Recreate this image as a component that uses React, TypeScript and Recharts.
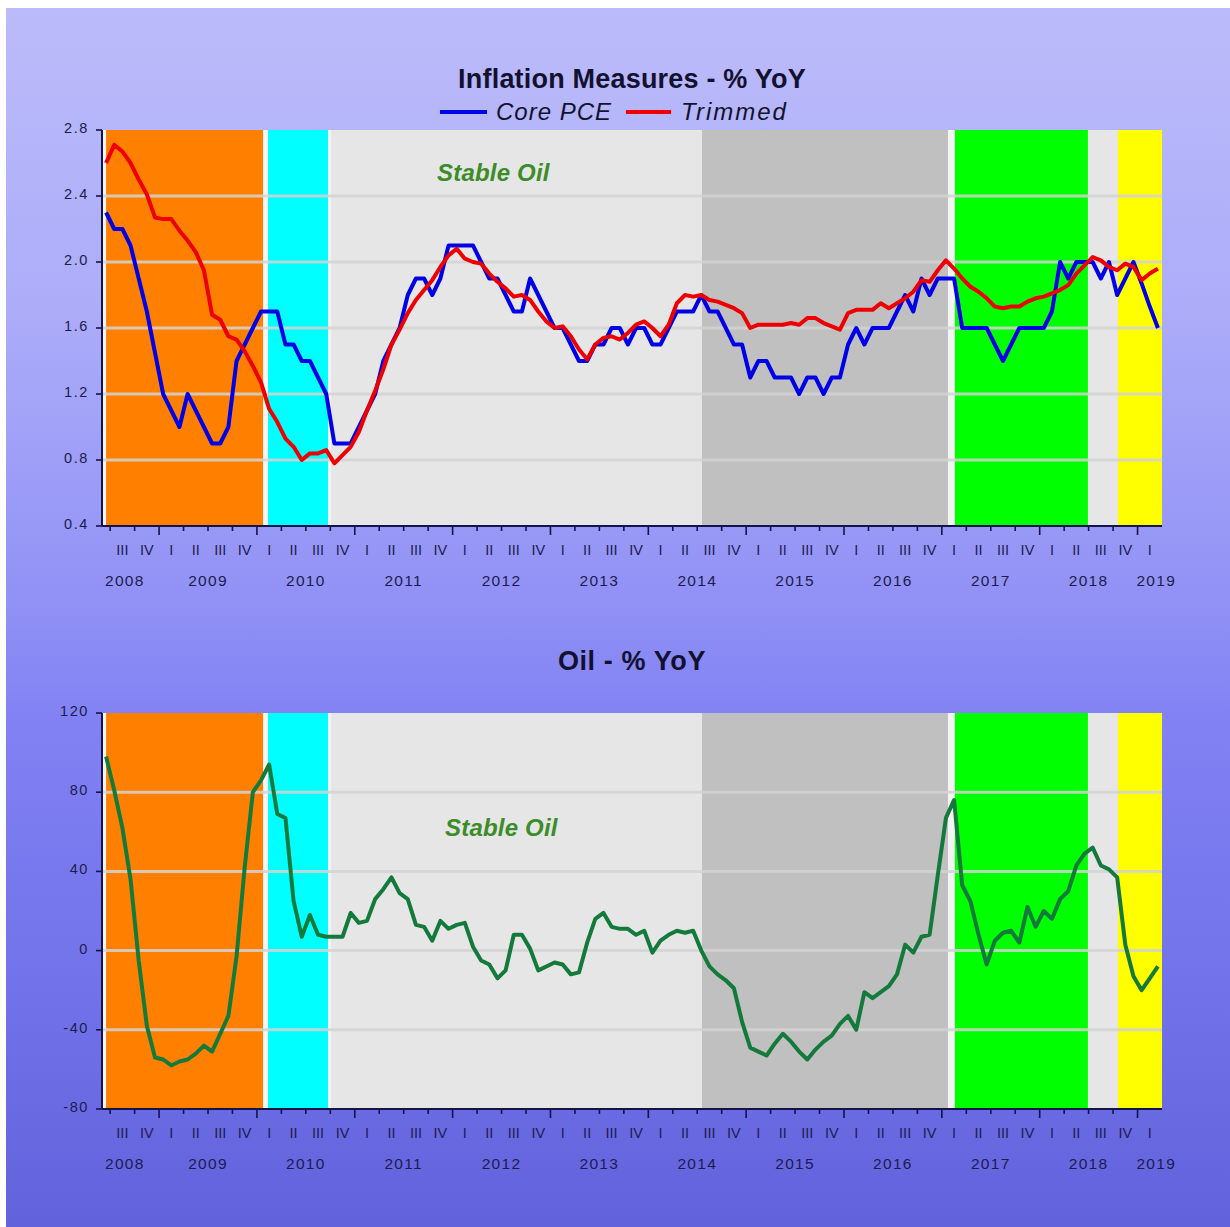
import React from 'react';
import { LineChart, Line, XAxis, YAxis, ReferenceArea, ReferenceLine } from 'recharts';

// Monthly observations, June 2008 (index 0) through March 2019 (index 129)
const START_MONTH = 6; // June

const corePCE = [
  2.3, 2.2, 2.2, 2.1, 1.9, 1.7, 1.45, 1.2, 1.1, 1.0,
  1.2, 1.1, 1.0, 0.9, 0.9, 1.0, 1.4, 1.5, 1.6, 1.7,
  1.7, 1.7, 1.5, 1.5, 1.4, 1.4, 1.3, 1.2, 0.9, 0.9,
  0.9, 1.0, 1.1, 1.2, 1.4, 1.5, 1.6, 1.8, 1.9, 1.9,
  1.8, 1.9, 2.1, 2.1, 2.1, 2.1, 2.0, 1.9, 1.9, 1.8,
  1.7, 1.7, 1.9, 1.8, 1.7, 1.6, 1.6, 1.5, 1.4, 1.4,
  1.5, 1.5, 1.6, 1.6, 1.5, 1.6, 1.6, 1.5, 1.5, 1.6,
  1.7, 1.7, 1.7, 1.8, 1.7, 1.7, 1.6, 1.5, 1.5, 1.3,
  1.4, 1.4, 1.3, 1.3, 1.3, 1.2, 1.3, 1.3, 1.2, 1.3,
  1.3, 1.5, 1.6, 1.5, 1.6, 1.6, 1.6, 1.7, 1.8, 1.7,
  1.9, 1.8, 1.9, 1.9, 1.9, 1.6, 1.6, 1.6, 1.6, 1.5,
  1.4, 1.5, 1.6, 1.6, 1.6, 1.6, 1.7, 2.0, 1.9, 2.0,
  2.0, 2.0, 1.9, 2.0, 1.8, 1.9, 2.0, 1.87, 1.73, 1.6,
];

const trimmed = [
  2.6, 2.71, 2.67, 2.6, 2.5, 2.41, 2.27, 2.26, 2.26, 2.19,
  2.13, 2.06, 1.95, 1.68, 1.65, 1.55, 1.53, 1.46, 1.37, 1.27,
  1.11, 1.03, 0.93, 0.88, 0.8, 0.84, 0.84, 0.86, 0.78, 0.83,
  0.88, 0.97, 1.1, 1.22, 1.35, 1.5, 1.59, 1.69, 1.77, 1.83,
  1.89, 1.97, 2.04, 2.08, 2.02, 2.0, 1.99, 1.93, 1.88, 1.84,
  1.79, 1.8, 1.77, 1.7, 1.64, 1.6, 1.61, 1.55, 1.47, 1.41,
  1.5, 1.54, 1.55, 1.53, 1.57, 1.62, 1.64, 1.6, 1.55, 1.62,
  1.75, 1.8, 1.79, 1.8, 1.77, 1.76, 1.74, 1.72, 1.69, 1.6,
  1.62, 1.62, 1.62, 1.62, 1.63, 1.62, 1.66, 1.66, 1.63, 1.61,
  1.59, 1.69, 1.71, 1.71, 1.71, 1.75, 1.72, 1.75, 1.78, 1.82,
  1.89, 1.88, 1.95, 2.01, 1.96, 1.9, 1.85, 1.82, 1.78, 1.73,
  1.72, 1.73, 1.73, 1.76, 1.78, 1.79, 1.81, 1.83, 1.86, 1.93,
  1.98, 2.03, 2.01, 1.97, 1.95, 1.99, 1.97, 1.89, 1.93, 1.96,
];

const oil = [
  98, 81, 62, 36, -5, -38, -54, -55, -58, -56,
  -55, -52, -48, -51, -42, -33, -3, 42, 80, 86,
  94, 69, 67, 25, 7, 18, 8, 7, 7, 7,
  19, 14, 15, 26, 31, 37, 29, 26, 13, 12,
  5, 15, 11, 13, 14, 2, -5, -7, -14, -10,
  8, 8, 1, -10, -8, -6, -7, -12, -11, 4,
  16, 19, 12, 11, 11, 8, 10, -1, 5, 8,
  10, 9, 10, 0, -8, -12, -15, -19, -36, -49,
  -51, -53, -47, -42, -46, -51, -55, -50, -46, -43,
  -37, -33, -40, -21, -24, -21, -18, -12, 3, -1,
  7, 8, 38, 67, 76, 33, 25, 8, -7, 5,
  9, 10, 4, 22, 12, 20, 16, 26, 30, 43,
  49, 52, 43, 41, 37, 3, -13, -20, -14, -8,
];

// Shaded oil regimes (month-index ranges)
const regimes = [
  { from: 0, to: 19.25, color: '#FF8000' },
  { from: 19.86, to: 27.22, color: '#00FFFF' },
  { from: 27.58, to: 73.08, color: '#E6E6E6' },
  { from: 73.08, to: 103.25, color: '#C0C0C0' },
  { from: 104.1, to: 120.42, color: '#00FF00' },
  { from: 120.42, to: 124.1, color: '#E6E6E6' },
  { from: 124.1, to: 129.5, color: '#FFFF00' },
];

const inflationTicks = [0.4, 0.8, 1.2, 1.6, 2.0, 2.4, 2.8];
const oilTicks = [-80, -40, 0, 40, 80, 120];
const romanQuarters = ['I', 'II', 'III', 'IV'];
const yearLabels = [
  { year: '2008', t: 2.3 },
  { year: '2009', t: 12.5 },
  { year: '2010', t: 24.5 },
  { year: '2011', t: 36.5 },
  { year: '2012', t: 48.5 },
  { year: '2013', t: 60.5 },
  { year: '2014', t: 72.5 },
  { year: '2015', t: 84.5 },
  { year: '2016', t: 96.5 },
  { year: '2017', t: 108.5 },
  { year: '2018', t: 120.5 },
  { year: '2019', t: 128.8 },
];

const N = corePCE.length;
const monthOf = (i: number) => ((START_MONTH - 1 + i) % 12) + 1;
const quarterStarts: number[] = [];
for (let i = 0; i < N; i++) if ((monthOf(i) - 1) % 3 === 0) quarterStarts.push(i);
const boundaryTicks = quarterStarts.map((s) => s - 0.5);
const yearBoundarySet = new Set(quarterStarts.filter((s) => monthOf(s) === 1).map((s) => s - 0.5));
const quarterCenters = quarterStarts.map((s) => s + 1);
const quarterLabelMap = new Map(quarterStarts.map((s) => [s + 1, romanQuarters[(monthOf(s) - 1) / 3]]));
const yearLabelMap = new Map(yearLabels.map((y) => [y.t, y.year]));

const inflationRows = corePCE.map((v, i) => ({ t: i, core: v, trimmed: trimmed[i] }));
const oilRows = oil.map((v, i) => ({ t: i, oil: v }));

const AXIS = '#14144A';
const TXT = '#1C1C50';
const FONT = '"Liberation Sans", Arial, sans-serif';

const BoundaryTick = (props: any) => {
  const { x, y, payload } = props;
  const long = yearBoundarySet.has(payload.value);
  return <line x1={x} y1={y} x2={x} y2={y + (long ? 9 : 5)} stroke={AXIS} strokeWidth={1.6} />;
};
const QuarterTick = (props: any) => {
  const { x, y, payload } = props;
  return (
    <text x={x} y={y + 19} textAnchor="middle" fill={TXT} fontSize={14.5} fontFamily={FONT}>
      {quarterLabelMap.get(payload.value)}
    </text>
  );
};
const YearTick = (props: any) => {
  const { x, y, payload } = props;
  return (
    <text x={x} y={y + 28} textAnchor="middle" fill={TXT} fontSize={15.5} fontFamily={FONT} letterSpacing={1.3}>
      {yearLabelMap.get(payload.value)}
    </text>
  );
};
const makeYTick = (fmt: (v: number) => string) => (props: any) => {
  const { x, y, payload } = props;
  return (
    <text x={x + 1} y={y + 3} textAnchor="end" fill={TXT} fontSize={14.5} fontFamily={FONT} letterSpacing={1.6}>
      {fmt(payload.value)}
    </text>
  );
};

const DOMAIN: [number, number] = [-0.5, N - 0.5];

function Panel({ rows, height, top, bottom, yDomain, yTicks, fmt, children }: any) {
  return (
    <LineChart
      width={1224}
      height={height}
      data={rows}
      margin={{ top, right: 68, bottom, left: 0 }}
    >
      <XAxis
        xAxisId="a"
        dataKey="t"
        type="number"
        domain={DOMAIN}
        ticks={boundaryTicks}
        interval={0}
        height={10}
        tickSize={0}
        tickMargin={0}
        tickLine={false}
        axisLine={{ stroke: AXIS, strokeWidth: 2 }}
        tick={<BoundaryTick />}
        allowDataOverflow
      />
      <XAxis
        xAxisId="b"
        dataKey="t"
        type="number"
        domain={DOMAIN}
        ticks={quarterCenters}
        interval={0}
        height={22}
        tickSize={0}
        tickMargin={0}
        tickLine={false}
        axisLine={false}
        tick={<QuarterTick />}
        allowDataOverflow
      />
      <XAxis
        xAxisId="c"
        dataKey="t"
        type="number"
        domain={DOMAIN}
        ticks={yearLabels.map((y) => y.t)}
        interval={0}
        height={24}
        tickSize={0}
        tickMargin={0}
        tickLine={false}
        axisLine={false}
        tick={<YearTick />}
        allowDataOverflow
      />
      <YAxis
        type="number"
        domain={yDomain}
        ticks={yTicks}
        interval={0}
        width={96}
        tickSize={6}
        tickMargin={8}
        tickLine={{ stroke: AXIS, strokeWidth: 1.6 }}
        axisLine={{ stroke: AXIS, strokeWidth: 2 }}
        tick={makeYTick(fmt)}
        allowDataOverflow
      />
      <ReferenceArea xAxisId="a" x1={DOMAIN[0]} x2={DOMAIN[1]} fill="#F4F4F4" fillOpacity={1} stroke="none" />
      {regimes.map((r, i) => (
        <ReferenceArea key={i} xAxisId="a" x1={r.from} x2={r.to} fill={r.color} fillOpacity={1} stroke="none" />
      ))}
      {yTicks.slice(1, -1).map((v: number) => (
        <ReferenceLine key={v} xAxisId="a" y={v} stroke="#D2D2D2" strokeOpacity={0.85} strokeWidth={3} />
      ))}
      {children}
    </LineChart>
  );
}

export default function App() {
  return (
    <div
      style={{
        position: 'absolute',
        left: 6,
        top: 8,
        width: 1224,
        height: 1219,
        background:
          'linear-gradient(to bottom, #BBBBFA 0%, #ACACF9 25%, #9292F6 48%, #8282F4 58%, #7272EA 80%, #6262DC 100%)',
        fontFamily: FONT,
        overflow: 'hidden',
      }}
    >
      <div style={{ position: 'absolute', left: 0, top: 0 }}>
        <Panel
          rows={inflationRows}
          height={600}
          top={122}
          bottom={26}
          yDomain={[0.4, 2.8]}
          yTicks={inflationTicks}
          fmt={(v: number) => v.toFixed(1)}
        >
          <Line xAxisId="a" type="linear" dataKey="core" stroke="#0000E6" strokeWidth={4} dot={false} isAnimationActive={false} strokeLinejoin="round" />
          <Line xAxisId="a" type="linear" dataKey="trimmed" stroke="#EE0000" strokeWidth={4} dot={false} isAnimationActive={false} strokeLinejoin="round" />
        </Panel>
      </div>
      <div style={{ position: 'absolute', left: 0, top: 600 }}>
        <Panel
          rows={oilRows}
          height={619}
          top={105}
          bottom={62}
          yDomain={[-80, 120]}
          yTicks={oilTicks}
          fmt={(v: number) => String(v)}
        >
          <Line xAxisId="a" type="linear" dataKey="oil" stroke="#147A3C" strokeWidth={4} dot={false} isAnimationActive={false} strokeLinejoin="round" />
        </Panel>
      </div>

      <div style={{ position: 'absolute', left: 0, width: 1252, top: 56, textAlign: 'center', fontSize: 27, lineHeight: '31px', fontWeight: 'bold', color: '#121230', letterSpacing: 0.2 }}>
        Inflation Measures - % YoY
      </div>
      <div style={{ position: 'absolute', left: 434, top: 90, height: 28, display: 'flex', alignItems: 'center', fontSize: 24, lineHeight: '28px', fontStyle: 'italic', color: '#121230', letterSpacing: 1 }}>
        <span style={{ display: 'inline-block', width: 47, height: 4, background: '#0000E6', marginRight: 9 }} />
        <span>Core PCE</span>
        <span style={{ display: 'inline-block', width: 45, height: 4, background: '#EE0000', marginLeft: 14, marginRight: 10 }} />
        <span style={{ letterSpacing: 2 }}>Trimmed</span>
      </div>
      <div style={{ position: 'absolute', left: 0, width: 1252, top: 638, textAlign: 'center', fontSize: 27, lineHeight: '31px', fontWeight: 'bold', color: '#121230', letterSpacing: 0.6 }}>
        Oil - % YoY
      </div>
      <div style={{ position: 'absolute', left: 431, top: 151, fontSize: 24, lineHeight: '28px', fontWeight: 'bold', fontStyle: 'italic', color: '#3C8C28', letterSpacing: 0.2 }}>
        Stable Oil
      </div>
      <div style={{ position: 'absolute', left: 439, top: 806, fontSize: 24, lineHeight: '28px', fontWeight: 'bold', fontStyle: 'italic', color: '#3C8C28', letterSpacing: 0.2 }}>
        Stable Oil
      </div>
    </div>
  );
}
